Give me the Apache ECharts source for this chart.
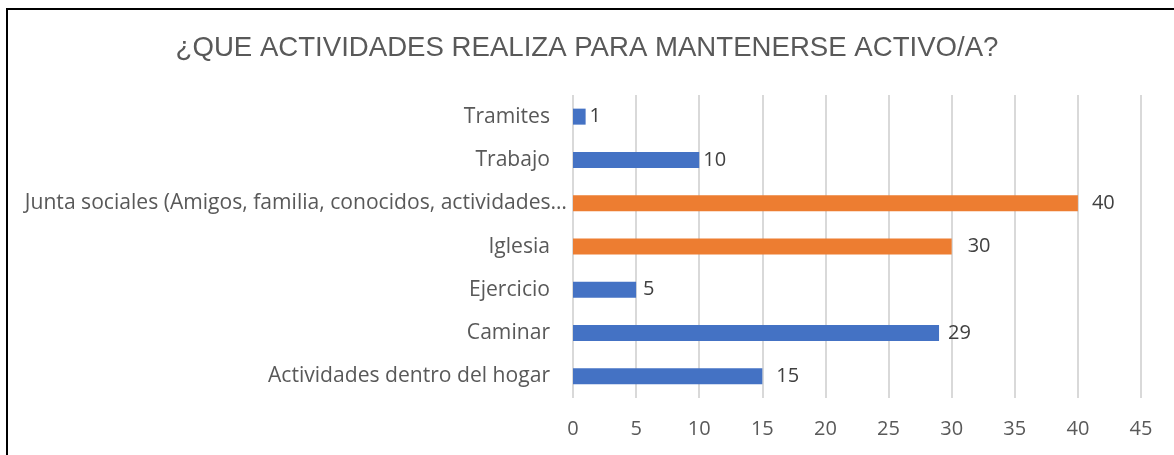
<!DOCTYPE html>
<html>
<head>
<meta charset="utf-8">
<script src="https://cdn.jsdelivr.net/npm/echarts@6/dist/echarts.min.js"></script>
<style>
  html, body { margin: 0; padding: 0; background: #fff; }
  #main { width: 1174px; height: 455px; }
</style>
</head>
<body>
<div id="main"></div>
<script>
// datos del gráfico
var categorias = ['Tramites', 'Trabajo', 'Junta sociales (Amigos, familia, conocidos, actividades\u2026', 'Iglesia', 'Ejercicio', 'Caminar', 'Actividades dentro del hogar'];
var valores = [1, 10, 40, 30, 5, 29, 15];
var destacados = [false, false, true, true, false, false, false];
var ticks = [0, 5, 10, 15, 20, 25, 30, 35, 40, 45];

var azul = '#4472C4';
var naranja = '#ED7D31';
// separación de cada etiqueta respecto a su barra (como en Excel)
var separacion = [4, 4, 14, 16, 7, 9, 14];

var myChart = echarts.init(document.getElementById('main'));

var option = {
    animation: false,
    title: {
        text: '¿QUE ACTIVIDADES REALIZA PARA MANTENERSE ACTIVO/A?',
        left: 'center',
        top: 29,
        textStyle: {
            fontFamily: 'Liberation Sans',
            fontSize: 27.6,
            fontWeight: 'normal',
            color: '#595959'
        }
    },
    graphic: [{
        type: 'rect',
        shape: { x: 7, y: 9, width: 1200, height: 500 },
        style: { fill: 'none', stroke: '#000', lineWidth: 2 }
    }],
    grid: {
        left: 573,
        right: 33,
        top: 95,
        height: 303
    },
    xAxis: {
        type: 'value',
        min: ticks[0],
        max: ticks[ticks.length - 1],
        interval: 5,
        axisLine: { show: false },
        axisTick: { show: false },
        splitLine: { lineStyle: { color: '#D9D9D9', width: 2 } },
        axisLabel: {
            margin: 21,
            fontFamily: 'Open Sans',
            fontSize: 20,
            color: '#595959'
        }
    },
    yAxis: {
        type: 'category',
        inverse: true,
        data: categorias,
        axisLine: { show: false },
        axisTick: { show: false },
        axisLabel: {
            margin: 6,
            formatter: function (v) {
                // la etiqueta recortada llega casi hasta la barra
                return v.indexOf('\u2026') >= 0 ? '{largo|' + v + '}' : '{corto|' + v + '}';
            },
            rich: {
                largo: { fontFamily: 'Open Sans', fontSize: 21.1, color: '#595959', padding: [0, 0, 0, 0] },
                corto: { fontFamily: 'Open Sans', fontSize: 21.1, color: '#595959', padding: [0, 17, 0, 0] }
            }
        }
    },
    series: [{
        type: 'bar',
        barWidth: 16,
        data: valores.map(function (v, i) {
            return {
                value: v,
                itemStyle: { color: destacados[i] ? naranja : azul },
                label: { distance: separacion[i] }
            };
        }),
        label: {
            show: true,
            position: 'right',
            fontFamily: 'Open Sans',
            fontSize: 20,
            color: '#404040'
        }
    }]
};

myChart.setOption(option);
</script>
</body>
</html>
